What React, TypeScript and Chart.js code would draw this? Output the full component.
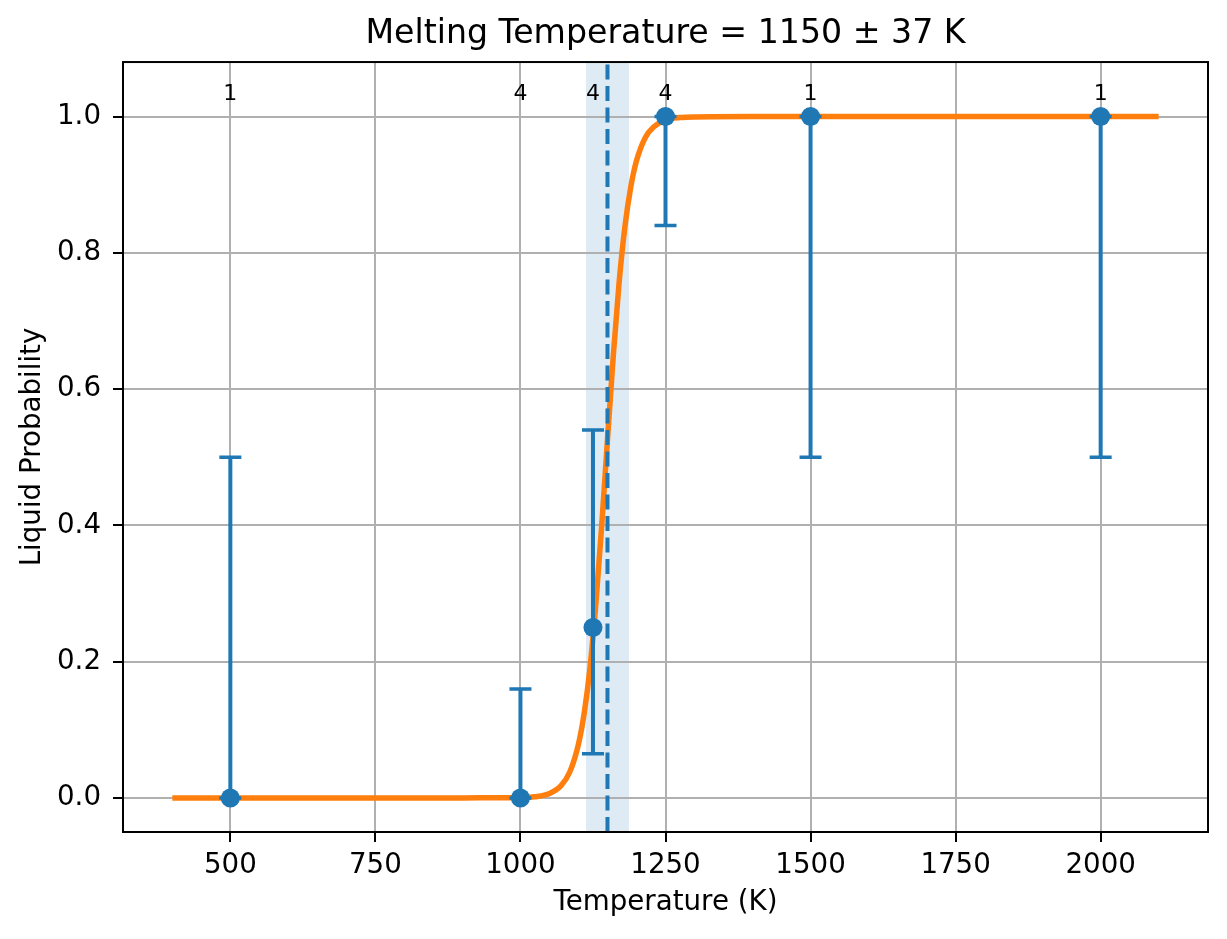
import { useEffect, useRef } from "react"
import { Chart, registerables } from "chart.js"

Chart.register(...registerables)

// measured points with their binomial error ranges
const TEMPS = [500, 1000, 1125, 1250, 1500, 2000]
const PROB = [0, 0, 0.25, 1, 1, 1]
const ERR_LOW = [0, 0, 0.065, 0.84, 0.5, 0.5]
const ERR_HIGH = [0.5, 0.16, 0.54, 1, 1, 1]
const COUNTS = ["1", "4", "4", "4", "1", "1"]

// fitted curve
const CURVE_T = [
  400, 600, 800, 900, 950, 1000, 1025, 1050, 1070, 1085, 1100, 1110, 1120, 1130, 1140, 1150, 1160, 1170,
  1180, 1190, 1200, 1215, 1230, 1250, 1275, 1300, 1400, 1600, 1800, 2000, 2100,
]
const CURVE_P = [
  0, 0, 0, 0, 0.0002, 0.0005, 0.0018, 0.0065, 0.018, 0.038, 0.079, 0.125, 0.192, 0.285, 0.399, 0.526, 0.649,
  0.756, 0.838, 0.896, 0.935, 0.969, 0.985, 0.995, 0.9985, 0.9995, 1, 1, 1, 1, 1,
]

const MELT_T = 1150
const MELT_ERR = 37

const X_TICKS = [500, 750, 1000, 1250, 1500, 1750, 2000]
const Y_TICKS = [0, 0.2, 0.4, 0.6, 0.8, 1.0]
const LABEL_Y = 1.025

const FONT = "'DejaVu Sans', sans-serif"
const BLUE = "#1f77b4"
const ORANGE = "#ff7f0e"
const GRID = "#b0b0b0"

const overlay = {
  id: "overlay",
  beforeDraw(chart: any) {
    const { ctx, chartArea: a, scales } = chart
    const x0 = scales.x.getPixelForValue(MELT_T - MELT_ERR)
    const x1 = scales.x.getPixelForValue(MELT_T + MELT_ERR)
    ctx.save()
    ctx.fillStyle = "rgba(31,119,180,0.15)"
    ctx.fillRect(x0, a.top, x1 - x0, a.bottom - a.top)
    ctx.restore()
  },
  afterDatasetDraw(chart: any, args: any) {
    if (args.index !== 0) return
    // error bars sit above the curve, below the markers
    const { ctx, scales } = chart
    ctx.save()
    ctx.strokeStyle = BLUE
    TEMPS.forEach((t, i) => {
      const px = scales.x.getPixelForValue(t)
      const lo = scales.y.getPixelForValue(ERR_LOW[i])
      const hi = scales.y.getPixelForValue(ERR_HIGH[i])
      ctx.lineWidth = 4
      ctx.beginPath()
      ctx.moveTo(px, lo)
      ctx.lineTo(px, hi)
      ctx.stroke()
      ctx.lineWidth = 3.5
      ctx.beginPath()
      ctx.moveTo(px - 11, lo)
      ctx.lineTo(px + 11, lo)
      ctx.moveTo(px - 11, hi)
      ctx.lineTo(px + 11, hi)
      ctx.stroke()
    })
    ctx.restore()
  },
  afterDatasetsDraw(chart: any) {
    const { ctx, chartArea: a, scales } = chart
    ctx.save()
    const mx = scales.x.getPixelForValue(MELT_T)
    ctx.strokeStyle = BLUE
    ctx.lineWidth = 4
    ctx.setLineDash([15, 6.5])
    ctx.beginPath()
    ctx.moveTo(mx, a.bottom)
    ctx.lineTo(mx, a.top)
    ctx.stroke()
    ctx.setLineDash([])

    ctx.fillStyle = "#000"
    ctx.font = `22px ${FONT}`
    ctx.textAlign = "center"
    ctx.textBaseline = "alphabetic"
    TEMPS.forEach((t, i) => {
      ctx.fillText(COUNTS[i], scales.x.getPixelForValue(t), scales.y.getPixelForValue(LABEL_Y))
    })
    ctx.restore()
  },
  afterDraw(chart: any) {
    const { ctx, chartArea: a } = chart
    ctx.save()
    ctx.strokeStyle = "#000"
    ctx.lineWidth = 2
    ctx.strokeRect(a.left, a.top, a.right - a.left, a.bottom - a.top)
    ctx.restore()
  },
}

export default function App() {
  const canvasRef = useRef<HTMLCanvasElement>(null)

  useEffect(() => {
    document.body.style.margin = "0"
    if (!canvasRef.current) return

    const chart = new Chart(canvasRef.current, {
      type: "scatter",
      data: {
        datasets: [
          {
            label: "fit",
            data: CURVE_T.map((t, i) => ({ x: t, y: CURVE_P[i] })),
            showLine: true,
            borderColor: ORANGE,
            borderWidth: 5.5,
            pointRadius: 0,
            cubicInterpolationMode: "monotone",
            order: 1,
          },
          {
            label: "data",
            data: TEMPS.map((t, i) => ({ x: t, y: PROB[i] })),
            showLine: false,
            pointRadius: 9.5,
            pointBackgroundColor: BLUE,
            pointBorderWidth: 0,
            order: 0,
          },
        ],
      },
      options: {
        animation: false,
        responsive: true,
        maintainAspectRatio: false,
        layout: { padding: { right: 19 } },
        plugins: {
          legend: { display: false },
          tooltip: { enabled: false },
          title: {
            display: true,
            fullSize: false,
            text: `Melting Temperature = ${MELT_T} ± ${MELT_ERR} K`,
            color: "#000",
            font: { family: FONT, size: 33.2, weight: "normal" },
            padding: { top: 14.6, bottom: 7.6 },
          },
        },
        scales: {
          x: {
            type: "linear",
            min: 315,
            max: 2185,
            afterBuildTicks: (s: any) => {
              s.ticks = X_TICKS.map((v) => ({ value: v }))
            },
            afterFit: (s: any) => {
              s.height = 107
            },
            ticks: {
              color: "#000",
              font: { family: FONT, size: 27.7 },
              padding: 7,
              maxRotation: 0,
              autoSkip: false,
              callback: (v: any) => String(v),
            },
            grid: { color: GRID, lineWidth: 2, tickColor: "#000", tickLength: 10, tickWidth: 2 },
            border: { display: false },
            title: {
              display: true,
              text: "Temperature (K)",
              color: "#000",
              font: { family: FONT, size: 27.7 },
              padding: { top: 0, bottom: 19.4 },
            },
          },
          y: {
            type: "linear",
            min: -0.05,
            max: 1.08,
            afterBuildTicks: (s: any) => {
              s.ticks = Y_TICKS.map((v) => ({ value: v }))
            },
            afterFit: (s: any) => {
              s.width = 123
            },
            ticks: {
              color: "#000",
              font: { family: FONT, size: 27.7 },
              padding: 12,
              autoSkip: false,
              callback: (v: any) => Number(v).toFixed(1),
            },
            grid: { color: GRID, lineWidth: 2, tickColor: "#000", tickLength: 10, tickWidth: 2 },
            border: { display: false },
            title: {
              display: true,
              text: "Liquid Probability",
              color: "#000",
              font: { family: FONT, size: 27.7 },
              padding: { top: 16, bottom: 0 },
            },
          },
        },
      },
      plugins: [overlay],
    })

    return () => chart.destroy()
  }, [])

  return (
    <div style={{ width: 1227, height: 939, position: "relative" }}>
      <canvas ref={canvasRef}></canvas>
    </div>
  )
}
